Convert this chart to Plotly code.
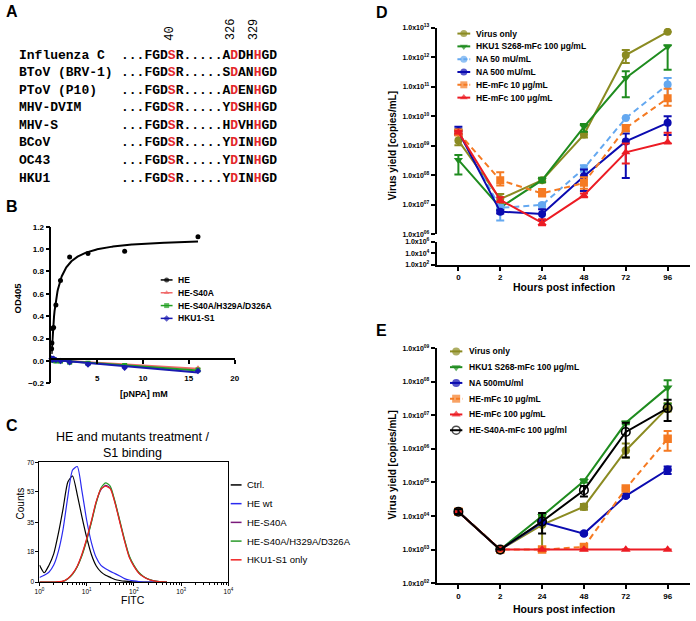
import math
import numpy as np
import plotly.graph_objects as go

W, H = 696, 621
SANS = "Liberation Sans, Arial, Helvetica, sans-serif"
MONO = "Liberation Mono, Courier New, monospace"
RED_TXT = "#e3262a"

# ---------------- Panel A : alignment ----------------
a_names = ["Influenza C", "BToV (BRV-1)", "PToV (P10)", "MHV-DVIM",
           "MHV-S", "BCoV", "OC43", "HKU1"]
a_pre = "...FGD"
a_ser = "S"
a_mid = "R....."
a_motif = ["ADDHHGD", "SDANHGD", "ADENHGD", "YDSHHGD",
           "HDVHHGD", "YDINHGD", "YDINHGD", "YDINHGD"]
a_pos_labels = ["40", "326", "329"]
a_pos_index = [6, 14, 17]          # character index of the labelled residue

# ---------------- Panel B : esterase assay ----------------
b_conc = [0.03125, 0.0625, 0.125, 0.25, 0.5, 1, 2, 4, 8, 16]
b_he = [0.11, 0.16, 0.29, 0.30, 0.50, 0.72, 0.93, 0.96, 0.98, 1.11]
b_s40a = [0.01, 0.01, 0.02, 0.01, 0.01, 0.0, -0.01, -0.02, -0.04, -0.06]
b_triple = [0.01, 0.02, 0.01, 0.01, 0.0, 0.0, -0.01, -0.02, -0.04, -0.08]
b_s1 = [0.02, 0.02, 0.01, 0.02, 0.01, 0.0, -0.01, -0.03, -0.06, -0.09]
b_names = ["HE", "HE-S40A", "HE-S40A/H329A/D326A", "HKU1-S1"]
b_yticks = [-0.2, 0.0, 0.2, 0.4, 0.6, 0.8, 1.0, 1.2]
b_xticks = [5, 10, 15, 20]

# ---------------- Panel C : flow cytometry ----------------
c_fitc = [1.0, 1.26, 1.58, 2.0, 2.51, 3.16, 3.98, 5.01, 6.31, 7.94, 10.0, 12.6, 15.8,
          20.0, 25.1, 31.6, 39.8, 50.1, 63.1, 79.4, 100, 126, 158, 200, 251, 316, 398, 501]
c_ctrl = [10, 5.5, 9.8, 16.5, 28.5, 43, 58.5, 62, 51, 38, 26, 16, 9.6, 6.0, 4.0, 2.8,
          1.6, 1.0, 0.6, 0.4, 0.2, 0.1, 0, 0, 0, 0, 0, 0]
c_wt = [2.7, 4.0, 5.8, 10, 18, 31, 50, 65.5, 67.5, 53, 36, 23, 14.5, 9.8, 7.8, 6.3,
        5.0, 3.6, 2.1, 1.3, 0.8, 0.4, 0.1, 0, 0, 0, 0, 0]
c_s40a = [0, 0, 0, 0, 0.2, 0.5, 2, 4.8, 9.2, 16, 25, 35.5, 46.5, 54, 56.5, 55, 46.5,
          35.5, 24.5, 15, 9.5, 5.5, 3.3, 1.8, 1.0, 0.5, 0.2, 0]
c_triple = [0, 0, 0, 0, 0.2, 0.5, 2, 4.6, 9, 15.5, 24.5, 35, 46, 55, 58, 56, 47, 36,
            25, 15.5, 9.8, 5.8, 3.4, 1.9, 1.0, 0.5, 0.2, 0]
c_s1 = [0, 0, 0, 0, 0.3, 0.6, 2.2, 5, 9.5, 16.5, 25.5, 36, 47, 54.5, 56, 54.5, 46, 35,
        24, 14.5, 9.2, 5.3, 3.2, 1.7, 0.9, 0.4, 0.2, 0]
c_names = ["Ctrl.", "HE wt", "HE-S40A", "HE-S40A/H329A/D326A", "HKU1-S1 only"]
c_yticks = [0, 18, 35, 53, 70]
c_xticks = [1, 10, 100, 1000, 10000]
c_xticktext = ["10<sup>0</sup>", "10<sup>1</sup>", "10<sup>2</sup>", "10<sup>3</sup>", "10<sup>4</sup>"]

# ---------------- Panel D : virus yield ----------------
hours = ["0", "2", "24", "48", "72", "96"]
d_names = ["Virus only", "HKU1 S268-mFc 100 μg/mL", "NA 50 mU/mL", "NA 500 mU/mL",
           "HE-mFc 10 μg/mL", "HE-mFc 100 μg/mL"]
d_virus = [1.5e9, 1.55e7, 6.8e7, 2.4e9, 1.2e12, 7.4e12]
d_virus_hi = [3.5e9, 2.3e7, 8.0e7, 2.9e9, 1.8e12, 7.4e12]
d_virus_lo = [1.05e9, 1.1e7, 5.8e7, 1.9e9, 6.5e11, 7.4e12]
d_hku1 = [3.3e8, 8.0e6, 6.8e7, 4.4e9, 2.0e11, 2.3e12]
d_hku1_hi = [4.9e8, 9.0e6, 8.2e7, 5.5e9, 3.4e11, 2.6e12]
d_hku1_lo = [1.05e8, 7.0e6, 5.8e7, 3.0e9, 4.4e10, 3.8e11]
d_na50 = [3.0e9, 7.8e6, 9.8e6, 1.7e8, 8.7e9, 1.2e11]
d_na50_hi = [3.8e9, 9.5e6, 1.1e7, 2.2e8, 8.7e9, 2.0e11]
d_na50_lo = [2.4e9, 2.9e6, 8.5e6, 1.3e8, 8.7e9, 3.4e10]
d_na500 = [3.1e9, 5.8e6, 4.8e6, 9.3e7, 1.4e9, 6.0e9]
d_na500_hi = [4.4e9, 6.5e6, 7.0e6, 1.55e8, 2.6e9, 1.0e10]
d_na500_lo = [2.3e9, 5.0e6, 3.0e6, 2.9e7, 8.1e7, 2.3e9]
d_he10 = [2.8e9, 6.8e7, 2.4e7, 5.5e7, 4.0e9, 4.1e10]
d_he10_hi = [3.5e9, 1.26e8, 3.4e7, 8.5e7, 5.0e9, 8.7e10]
d_he10_lo = [2.4e9, 4.5e7, 2.0e7, 3.5e7, 3.1e9, 2.3e10]
d_he100 = [2.9e9, 1.45e7, 2.4e6, 2.1e7, 6.0e8, 1.35e9]
d_he100_hi = [3.2e9, 1.8e7, 3.2e6, 2.4e7, 1.2e9, 2.75e9]
d_he100_lo = [2.6e9, 1.2e7, 2.0e6, 1.8e7, 2.5e8, 1.2e9]
d_limit = 1.0e3
d_upper_exp = [6, 7, 8, 9, 10, 11, 12, 13]
d_lower_exp = [2, 4, 6]

# ---------------- Panel E : virus yield ----------------
e_names = ["Virus only", "HKU1 S268-mFc 100 μg/mL", "NA 500mU/ml", "HE-mFc 10 μg/mL",
           "HE-mFc 100 μg/mL", "HE-S40A-mFc 100 μg/ml"]
e_virus = [1.35e4, 1e3, 5.5e3, 1.9e4, 9.0e5, 1.7e7]
e_virus_hi = [1.6e4, 1e3, 1.0e4, 2.3e4, 1.45e6, 2.3e7]
e_virus_lo = [1.15e4, 1e3, 1.0e3, 1.55e4, 5.6e5, 1.3e7]
e_hku1 = [1.35e4, 1e3, 1.0e4, 1.1e5, 6.0e6, 6.7e7]
e_hku1_hi = [1.6e4, 1e3, 1.1e4, 1.25e5, 6.6e6, 1.12e8]
e_hku1_lo = [1.15e4, 1e3, 9.0e3, 1.0e5, 5.4e6, 2.2e7]
e_na500 = [1.35e4, 1e3, 6.5e3, 3.0e3, 4.0e4, 2.4e5]
e_na500_hi = [1.6e4, 1e3, 7.0e3, 3.2e3, 4.3e4, 3.0e5]
e_na500_lo = [1.15e4, 1e3, 6.0e3, 2.8e3, 3.7e4, 1.8e5]
e_he10 = [1.35e4, 1e3, 1e3, 1.2e3, 6.6e4, 2.0e6]
e_he10_hi = [1.6e4, 1e3, 1e3, 1.35e3, 7.0e4, 3.4e6]
e_he10_lo = [1.15e4, 1e3, 1e3, 1.1e3, 6.0e4, 8.9e5]
e_he100 = [1.35e4, 1e3, 1e3, 1e3, 1e3, 1e3]
e_he100_hi = [1.35e4, 1e3, 1e3, 1e3, 1e3, 1e3]
e_he100_lo = [1.35e4, 1e3, 1e3, 1e3, 1e3, 1e3]
e_s40a = [1.35e4, 1e3, 6.9e3, 5.9e4, 3.2e6, 1.65e7]
e_s40a_hi = [1.6e4, 1e3, 1.23e4, 7.8e4, 6.0e6, 2.9e7]
e_s40a_lo = [1.15e4, 1e3, 3.0e3, 3.8e4, 5.6e5, 6.8e6]
e_limit = 1.0e3
e_exp = [2, 3, 4, 5, 6, 7, 8, 9]

# ---------------- colours ----------------
OLIVE = "#8b8b22"
GREEN = "#1f8c1f"
LBLUE = "#64a8f0"
DBLUE = "#0b0bb0"
ORANGE = "#f57a22"
RED = "#ec1c24"


def fx(p):
    return p / W


def fy(p):
    return 1 - p / H


fig = go.Figure()


def tr(**kw):
    fig.add_trace(go.Scatter(showlegend=False, hoverinfo="skip", **kw))


def txt(x, y, s, size, weight="normal", family=SANS, xanchor="center",
        yanchor="middle", angle=0, color="black"):
    fig.add_annotation(x=fx(x), y=fy(y), xref="paper", yref="paper", text=s,
                       showarrow=False, borderpad=0, textangle=angle,
                       xanchor=xanchor, yanchor=yanchor,
                       font=dict(family=family, size=size, color=color, weight=weight))


# ======== Panel A ========
A_X_NAME, A_X_SEQ, A_Y0, A_DY, A_CW = 13, 117, 52, 17.8, 7.8
for i, (nm, m) in enumerate(zip(a_names, a_motif)):
    y = A_Y0 + i * A_DY
    txt(A_X_NAME, y, f"<b>{nm}</b>", 13, family=MONO, xanchor="left")
    seq = (f"<b>{a_pre}<span style='color:{RED_TXT}'>{a_ser}</span>{a_mid}{m[0]}"
           f"<span style='color:{RED_TXT}'>{m[1]}</span>{m[2:4]}"
           f"<span style='color:{RED_TXT}'>{m[4]}</span>{m[5:]}</b>")
    txt(A_X_SEQ, y, seq, 13, family=MONO, xanchor="left")
for lab, idx in zip(a_pos_labels, a_pos_index):
    txt(A_X_SEQ + (idx + 0.5) * A_CW, 38, lab, 12, family=MONO, angle=-90,
        yanchor="bottom")

# ======== Panel B ========
xs = np.array(b_conc, dtype=float)
ys = np.array(b_he, dtype=float)
best = None
for km in np.linspace(0.05, 3.0, 2951):
    f = xs / (km + xs)
    vmax = float(ys @ f) / float(f @ f)
    err = float(((ys - vmax * f) ** 2).sum())
    if best is None or err < best[0]:
        best = (err, km, vmax)
_, KM, VMAX = best
fit_x = np.linspace(xs.min(), xs.max(), 300)
fit_y = VMAX * fit_x / (KM + fit_x)

b_colors = ["black", "#f06a6a", "#22a022", "#1a1ab0"]
b_symbols = ["circle", "triangle-up", "square", "diamond"]
tr(x=fit_x, y=fit_y, mode="lines", line=dict(color="black", width=2), xaxis="x", yaxis="y")
tr(x=b_conc, y=b_he, mode="markers", marker=dict(color="black", size=5),
   xaxis="x", yaxis="y", cliponaxis=False)
for vals, col, sym in zip([b_s40a, b_triple, b_s1], b_colors[1:], b_symbols[1:]):
    slope, icpt = np.polyfit(xs, np.array(vals), 1)
    lx = np.array([0.0, xs.max()])
    tr(x=lx, y=slope * lx + icpt, mode="lines", line=dict(color=col, width=2),
       xaxis="x", yaxis="y")
    tr(x=b_conc, y=vals, mode="markers", marker=dict(color=col, size=5, symbol=sym),
       xaxis="x", yaxis="y", cliponaxis=False)

# ======== Panel C ========
c_colors = ["black", "#2a2af0", "#7a1a7a", "#2a9a2a", "#f02020"]
for vals, col in zip([c_ctrl, c_wt, c_s40a, c_triple, c_s1], c_colors):
    tr(x=c_fitc, y=vals, mode="lines", line=dict(color=col, width=1.2, shape="spline",
                                                 smoothing=0.6),
       xaxis="x2", yaxis="y2")

# ======== Panel D & E ========


def series(xa, ya, vals, hi, lo, color, symbol, dash, msize):
    v = np.array(vals)
    h = np.array(hi)
    l = np.array(lo)
    tr(x=hours, y=vals, xaxis=xa, yaxis=ya, mode="lines+markers",
       line=dict(color=color, width=2, dash=dash),
       marker=dict(symbol=symbol, size=msize, color=color,
                   line=dict(width=1.6 if "open" in symbol else 0, color=color)),
       error_y=dict(type="data", symmetric=False, array=h - v, arrayminus=v - l,
                    color=color, thickness=2, width=4))


D_STYLE = [(OLIVE, "circle", "solid"), (GREEN, "triangle-down", "solid"),
           (LBLUE, "circle", "6px,4px"), (DBLUE, "circle", "solid"),
           (ORANGE, "square", "6px,4px"), (RED, "triangle-up", "solid")]
D_DATA = [(d_virus, d_virus_hi, d_virus_lo), (d_hku1, d_hku1_hi, d_hku1_lo),
          (d_na50, d_na50_hi, d_na50_lo), (d_na500, d_na500_hi, d_na500_lo),
          (d_he10, d_he10_hi, d_he10_lo), (d_he100, d_he100_hi, d_he100_lo)]
for (vals, hi, lo), (col, sym, dash) in zip(D_DATA, D_STYLE):
    series("x3", "y3", vals, hi, lo, col, sym, dash, 8)

E_STYLE = [(OLIVE, "circle", "solid"), (GREEN, "triangle-down", "solid"),
           (DBLUE, "circle", "solid"), (ORANGE, "square", "6px,4px"),
           (RED, "triangle-up", "solid"), ("black", "circle-open", "solid")]
E_DATA = [(e_virus, e_virus_hi, e_virus_lo), (e_hku1, e_hku1_hi, e_hku1_lo),
          (e_na500, e_na500_hi, e_na500_lo), (e_he10, e_he10_hi, e_he10_lo),
          (e_he100, e_he100_hi, e_he100_lo), (e_s40a, e_s40a_hi, e_s40a_lo)]
for (vals, hi, lo), (col, sym, dash) in zip(E_DATA, E_STYLE):
    series("x4", "y5", vals, hi, lo, col, sym, dash, 8.5)

fig.add_shape(type="line", xref="x3 domain", yref="y4", x0=0, x1=1,
              y0=math.log10(d_limit), y1=math.log10(d_limit),
              line=dict(color="black", width=1.2, dash="4px,3px"))
fig.add_shape(type="line", xref="x4 domain", yref="y5", x0=0, x1=1,
              y0=math.log10(e_limit), y1=math.log10(e_limit),
              line=dict(color="black", width=1.2, dash="4px,3px"))

# ======== manual legends (overlay pixel axis x5/y6) ========


def legend_entry(x0, x1, y, xt, text, color, symbol, msize, dash, lw, size, weight):
    if symbol is None:
        tr(x=[x0, x1], y=[y, y], mode="lines", line=dict(color=color, width=lw, dash=dash),
           xaxis="x5", yaxis="y6")
    else:
        tr(x=[x0, (x0 + x1) / 2, x1], y=[y, y, y], mode="lines+markers",
           line=dict(color=color, width=lw, dash=dash),
           marker=dict(symbol=symbol, size=[0, msize, 0], color=color,
                       line=dict(width=1.6 if "open" in symbol else 0, color=color)),
           xaxis="x5", yaxis="y6")
    txt(xt, y, text, size, weight=weight, xanchor="left")


for i, (nm, col, sym) in enumerate(zip(b_names, b_colors, b_symbols)):
    legend_entry(158, 170, 280 + 13 * i, 174, nm, col, sym, 5, "solid", 1.5, 8.5, "bold")
for i, (nm, col) in enumerate(zip(c_names, c_colors)):
    legend_entry(229, 240, 488 + 19 * i, 245, nm, col, None, 0, "solid", 1.5, 9.5, "normal")
for i, (nm, (col, sym, dash)) in enumerate(zip(d_names, D_STYLE)):
    legend_entry(459, 472, 30 + 13 * i, 477, nm, col, sym, 7, "4px,2px" if dash != "solid" else "solid",
                 2, 8.5, "bold")
for i, (nm, (col, sym, dash)) in enumerate(zip(e_names, E_STYLE)):
    legend_entry(451.5, 464, 352.5 + 16 * i, 469.5, nm, col, sym, 8,
                 "4px,2px" if dash != "solid" else "solid", 2, 8.5, "bold")

# ======== texts ========
txt(7, 8, "A", 16, weight="bold")
txt(7, 205, "B", 16, weight="bold")
txt(7, 428, "C", 16, weight="bold")
txt(382, 9, "D", 16, weight="bold")
txt(382, 331, "E", 16, weight="bold")

txt(13, 298, "OD405", 9.5, weight="bold", angle=-90)
txt(141, 396, "[pNPA] mM", 9, weight="bold")
txt(129, 447, "HE and mutants treatment /<br>S1 binding", 12.5)
txt(16, 507, "Counts", 10, angle=-90)
txt(130, 605, "FITC", 10.5)
txt(394, 144, "Virus yield [copies/mL]", 10, weight="bold", angle=-90)
txt(567, 287, "Hours post infection", 10.5, weight="bold")
txt(393, 468, "Virus yield [copies/mL]", 10, weight="bold", angle=-90)
txt(567, 614, "Hours post infection", 10.5, weight="bold")

# ======== axes ========
common = dict(showgrid=False, zeroline=False, showline=True, linecolor="black",
              ticks="outside", tickcolor="black")
tfb = dict(family=SANS, size=8, color="black", weight="bold")
tfd = dict(family=SANS, size=7, color="black", weight="bold")

X_LO = (438 - 460) / 42.46
X_HI = (695 - 460) / 42.46

fig.update_layout(
    width=W, height=H, margin=dict(l=0, r=0, t=0, b=0),
    paper_bgcolor="white", plot_bgcolor="rgba(0,0,0,0)", showlegend=False,
    xaxis=dict(domain=[fx(47), fx(233)], range=[0, 20], anchor="free", position=fy(360.4),
               tickvals=b_xticks, ticklen=4, linewidth=1.5, tickwidth=1.5, tickfont=tfb,
               ticklabelstandoff=7, **common),
    yaxis=dict(domain=[fy(385), fy(226)], range=[-0.2, 1.2], anchor="x", tickvals=b_yticks,
               tickformat=".1f", ticklen=4, linewidth=1.5, tickwidth=1.5, tickfont=tfb, **common),
    xaxis2=dict(domain=[fx(35), fx(226.7)], type="log", range=[0, 4], anchor="y2",
                tickvals=c_xticks, ticktext=c_xticktext, ticklen=3, linewidth=1, mirror=True,
                minor=dict(tickvals=[m * 10 ** e for e in range(4) for m in range(2, 10)],
                           ticks="outside", ticklen=2, tickcolor="black"),
                tickfont=dict(family=SANS, size=6.5, color="black"), **common),
    yaxis2=dict(domain=[fy(586.7), fy(465)], range=[0, 70], anchor="x2", tickvals=c_yticks,
                ticklen=3, linewidth=1, mirror=True,
                tickfont=dict(family=SANS, size=6.5, color="black"), **common),
    xaxis3=dict(domain=[fx(438), fx(695)], type="category", categoryarray=hours,
                range=[X_LO, X_HI], anchor="y4", ticklen=4, linewidth=2, tickwidth=2,
                tickfont=tfb, **common),
    yaxis3=dict(domain=[fy(233.5), fy(24.3)], type="log", range=[6, 13], anchor="x3",
                tickvals=[10.0 ** e for e in d_upper_exp],
                ticktext=[f"1.0x10<sup>{e:02d}</sup>" for e in d_upper_exp],
                ticklen=4, linewidth=2, tickwidth=2, tickfont=tfd, **common),
    yaxis4=dict(domain=[fy(264.5), fy(241)], type="log", range=[2, 6], anchor="x3",
                tickvals=[10.0 ** e for e in d_lower_exp],
                ticktext=[f"1.0x10<sup>{e}</sup>" for e in d_lower_exp],
                ticklen=4, linewidth=2, tickwidth=2, tickfont=tfd, **common),
    xaxis4=dict(domain=[fx(438), fx(695)], type="category", categoryarray=hours,
                range=[X_LO, X_HI], anchor="y5", ticklen=4, linewidth=2, tickwidth=2,
                tickfont=tfb, **common),
    yaxis5=dict(domain=[fy(587.7), fy(349.3)], type="log", range=[2, 9], anchor="x4",
                tickvals=[10.0 ** e for e in e_exp],
                ticktext=[f"1.0x10<sup>{e:02d}</sup>" for e in e_exp],
                ticklen=4, linewidth=2, tickwidth=2, tickfont=tfd, **common),
    xaxis5=dict(domain=[0, 1], range=[0, W], anchor="y6", visible=False, fixedrange=True),
    yaxis6=dict(domain=[0, 1], range=[H, 0], anchor="x5", visible=False, fixedrange=True),
)

fig.write_html("out.html", config={"displayModeBar": False},
               post_script="document.body.style.margin='0';document.body.style.overflow='hidden';")
